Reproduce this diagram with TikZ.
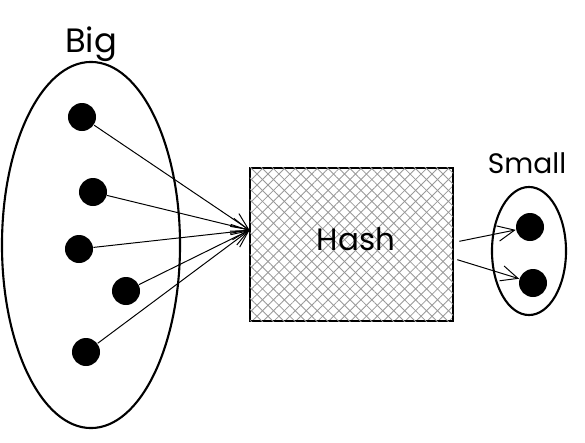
\documentclass[tikz,border=0pt]{standalone}
\usepackage{fontspec}
\setmainfont{Poppins}
\usetikzlibrary{shapes.geometric,arrows.meta,patterns.meta}

\begin{document}
\begin{tikzpicture}[x=0.025cm, y=-0.025cm, thick]
    \tikzstyle{set} = [ellipse, draw, line width=1.5pt, inner sep=0pt]
    \tikzstyle{elem} = [circle, fill=black, minimum size=0.7cm, inner sep=0pt]
    \tikzstyle{hashbox} = [rectangle, draw, line width=1.6pt, minimum width=5.075cm, minimum height=3.825cm,
        pattern={Lines[angle=45,distance=5.5pt,line width=0.6pt]}, pattern color=gray!80,
        postaction={pattern={Lines[angle=-45,distance=5.5pt,line width=0.6pt]}, pattern color=gray!80}]
    \tikzstyle{label} = [anchor=base, inner sep=0pt]
    \tikzstyle{transition} = [-{Straight Barb[length=12pt, width=11pt]}, line width=0.7pt]
    \useasboundingbox (0,0) rectangle (585,442);
    % big set
    \node[set, minimum width=4.45cm, minimum height=9.15cm] (B) at (91,245) {};
    \node[label, font=\fontsize{24}{28}\selectfont] (Blabel) at (91,52) {Big};
    \node[elem] (b1) at (82,117) {};
    \node[elem] (b2) at (93,192) {};
    \node[elem] (b3) at (79,249) {};
    \node[elem] (b4) at (126,291) {};
    \node[elem] (b5) at (86,352) {};
    % hash
    \node[hashbox] (H) at (351.5,244.5) {};
    \node[label, font=\fontsize{22}{26}\selectfont] (Hlabel) at (356,250) {Hash};
    \coordinate (entry) at ([yshift=0.36cm]H.west);
    % small set
    \node[set, minimum width=1.85cm, minimum height=3.2cm] (S) at (529,251) {};
    \node[label, font=\fontsize{20}{24}\selectfont] (Slabel) at (527,173) {Small};
    \node[elem] (s1) at (530,227) {};
    \node[elem] (s2) at (533,283) {};
    % connectors
    \foreach \b in {b1,b2,b3,b4,b5}
        \path[transition] (\b) edge (entry);
    \path[transition, shorten <=0.15cm] ([yshift=0.05cm]H.east) edge (s1);
    \path[transition, shorten <=0.1cm] ([yshift=-0.35cm]H.east) edge (s2);
\end{tikzpicture}
\end{document}
